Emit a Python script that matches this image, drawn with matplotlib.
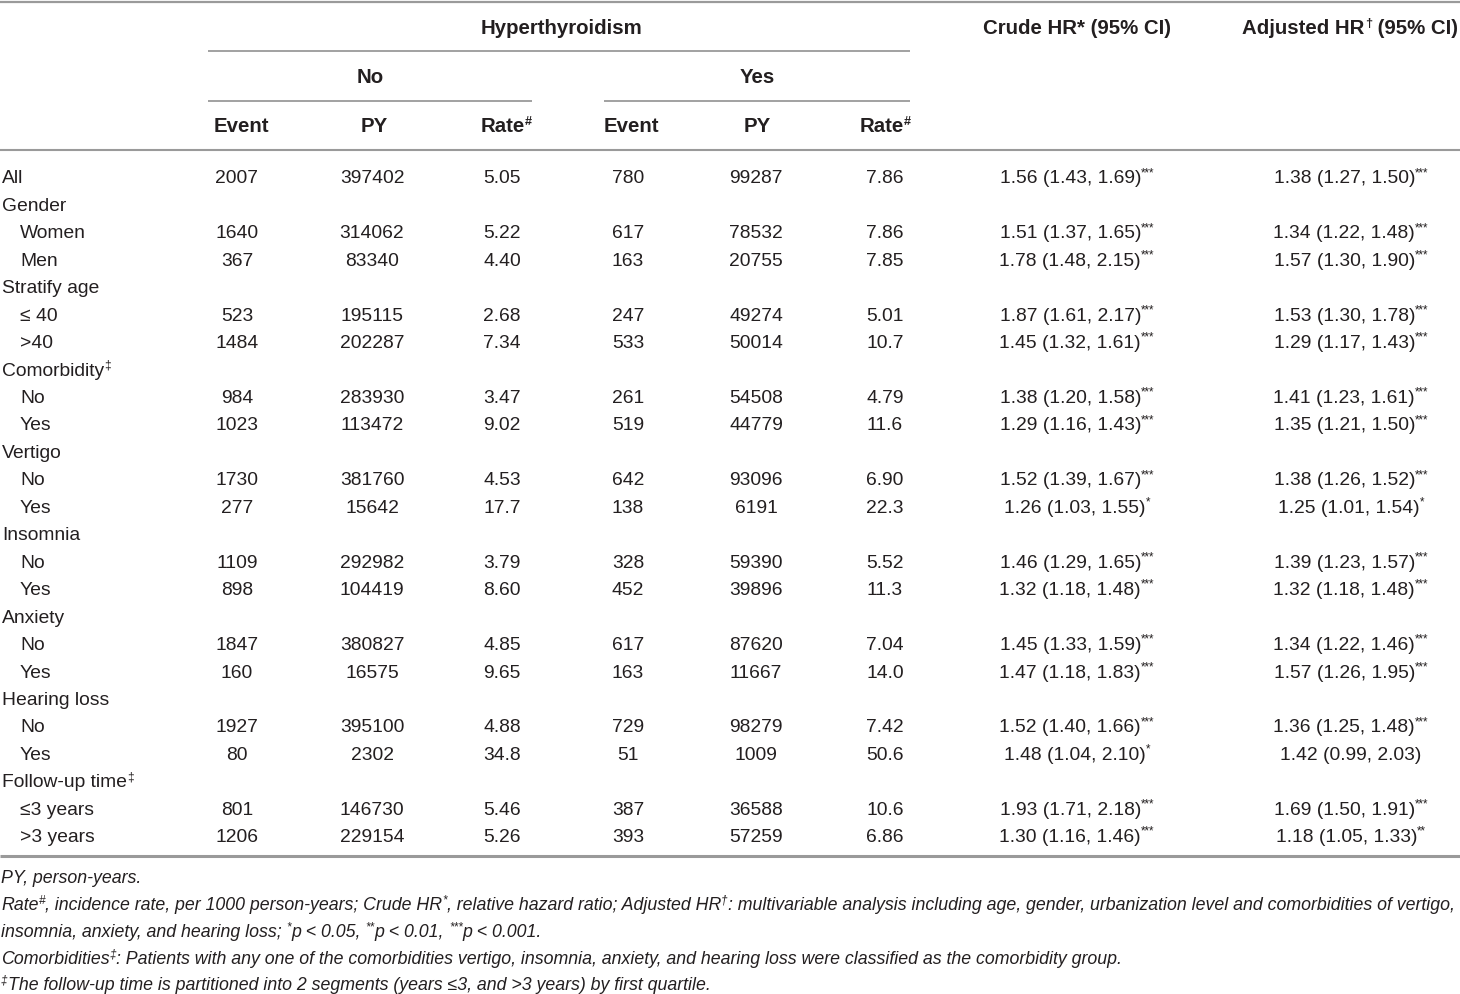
import matplotlib
matplotlib.use('Agg')
import matplotlib.pyplot as plt
from matplotlib.font_manager import FontProperties

# ---------------- data ----------------
row_labels = ["All", "Gender", "Women", "Men", "Stratify age", "\u2264 40", ">40",
              "Comorbidity", "No", "Yes", "Vertigo", "No", "Yes", "Insomnia", "No", "Yes",
              "Anxiety", "No", "Yes", "Hearing loss", "No", "Yes", "Follow-up time",
              "\u22643 years", ">3 years"]
row_label_sup = ["", "", "", "", "", "", "", "\u2021", "", "", "", "", "", "", "", "",
                 "", "", "", "", "", "", "\u2021", "", ""]
row_indent = [0, 0, 1, 1, 0, 1, 1, 0, 1, 1, 0, 1, 1, 0, 1, 1, 0, 1, 1, 0, 1, 1, 0, 1, 1]

event_no = ["2007", "", "1640", "367", "", "523", "1484", "", "984", "1023", "", "1730", "277",
            "", "1109", "898", "", "1847", "160", "", "1927", "80", "", "801", "1206"]
py_no = ["397402", "", "314062", "83340", "", "195115", "202287", "", "283930", "113472", "",
         "381760", "15642", "", "292982", "104419", "", "380827", "16575", "", "395100", "2302",
         "", "146730", "229154"]
rate_no = ["5.05", "", "5.22", "4.40", "", "2.68", "7.34", "", "3.47", "9.02", "", "4.53", "17.7",
           "", "3.79", "8.60", "", "4.85", "9.65", "", "4.88", "34.8", "", "5.46", "5.26"]
event_yes = ["780", "", "617", "163", "", "247", "533", "", "261", "519", "", "642", "138", "",
             "328", "452", "", "617", "163", "", "729", "51", "", "387", "393"]
py_yes = ["99287", "", "78532", "20755", "", "49274", "50014", "", "54508", "44779", "",
          "93096", "6191", "", "59390", "39896", "", "87620", "11667", "", "98279", "1009", "",
          "36588", "57259"]
rate_yes = ["7.86", "", "7.86", "7.85", "", "5.01", "10.7", "", "4.79", "11.6", "", "6.90", "22.3",
            "", "5.52", "11.3", "", "7.04", "14.0", "", "7.42", "50.6", "", "10.6", "6.86"]
crude_hr = ["1.56 (1.43, 1.69)", "", "1.51 (1.37, 1.65)", "1.78 (1.48, 2.15)", "",
            "1.87 (1.61, 2.17)", "1.45 (1.32, 1.61)", "", "1.38 (1.20, 1.58)", "1.29 (1.16, 1.43)",
            "", "1.52 (1.39, 1.67)", "1.26 (1.03, 1.55)", "", "1.46 (1.29, 1.65)",
            "1.32 (1.18, 1.48)", "", "1.45 (1.33, 1.59)", "1.47 (1.18, 1.83)", "",
            "1.52 (1.40, 1.66)", "1.48 (1.04, 2.10)", "", "1.93 (1.71, 2.18)", "1.30 (1.16, 1.46)"]
crude_sig = ["***", "", "***", "***", "", "***", "***", "", "***", "***", "", "***", "*", "",
             "***", "***", "", "***", "***", "", "***", "*", "", "***", "***"]
adj_hr = ["1.38 (1.27, 1.50)", "", "1.34 (1.22, 1.48)", "1.57 (1.30, 1.90)", "",
          "1.53 (1.30, 1.78)", "1.29 (1.17, 1.43)", "", "1.41 (1.23, 1.61)", "1.35 (1.21, 1.50)",
          "", "1.38 (1.26, 1.52)", "1.25 (1.01, 1.54)", "", "1.39 (1.23, 1.57)",
          "1.32 (1.18, 1.48)", "", "1.34 (1.22, 1.46)", "1.57 (1.26, 1.95)", "",
          "1.36 (1.25, 1.48)", "1.42 (0.99, 2.03)", "", "1.69 (1.50, 1.91)", "1.18 (1.05, 1.33)"]
adj_sig = ["***", "", "***", "***", "", "***", "***", "", "***", "***", "", "***", "*", "",
           "***", "***", "", "***", "***", "", "***", "", "", "***", "**"]

footnotes = [
    [("PY, person-years.", False)],
    [("Rate", False), ("#", True), (", incidence rate, per 1000 person-years; Crude HR", False),
     ("*", True), (", relative hazard ratio; Adjusted HR", False), ("\u2020", True),
     (": multivariable analysis including age, gender, urbanization level and comorbidities of vertigo,", False)],
    [("insomnia, anxiety, and hearing loss; ", False), ("*", True), ("p < 0.05, ", False),
     ("**", True), ("p < 0.01, ", False), ("***", True), ("p < 0.001.", False)],
    [("Comorbidities", False), ("\u2021", True),
     (": Patients with any one of the comorbidities vertigo, insomnia, anxiety, and hearing loss were classified as the comorbidity group.", False)],
    [("\u2021", True), ("The follow-up time is partitioned into 2 segments (years \u22643, and >3 years) by first quartile.", False)],
]

# ---------------- figure ----------------
W, H = 1460, 994
fig = plt.figure(figsize=(W / 100, H / 100), dpi=100)
ax = fig.add_axes([0, 0, 1, 1])
ax.set_xlim(0, W)
ax.set_ylim(H, 0)
ax.axis('off')
renderer = fig.canvas.get_renderer()

TXT = '#231f20'
LINE = '#9a9a9a'
FAM = ['Liberation Sans', 'DejaVu Sans']
NARROW = ['Liberation Sans Narrow', 'Liberation Sans', 'DejaVu Sans']


def fp(size, weight='normal', style='normal', family=FAM):
    return FontProperties(family=family, size=size, weight=weight, style=style)


def twidth(s, prop):
    t1 = ax.text(0, 0, s + '|', fontproperties=prop)
    w1 = t1.get_window_extent(renderer).width
    t1.remove()
    t2 = ax.text(0, 0, '|', fontproperties=prop)
    w2 = t2.get_window_extent(renderer).width
    t2.remove()
    return w1 - w2


def rich(x, y, runs, size, ha='left', weight='normal', style='normal', family=FAM,
         sup_scale=0.62, measure_only=False):
    main = fp(size, weight, style, family)
    sup = fp(size * sup_scale, weight, style, family)
    widths = [twidth(s, sup if is_sup else main) for s, is_sup in runs]
    total = sum(widths)
    if measure_only:
        return total
    px = size * 100 / 72.0
    base = y + 0.36 * px
    if ha == 'center':
        cx = x - total / 2
    elif ha == 'right':
        cx = x - total
    else:
        cx = x
    for (s, is_sup), w in zip(runs, widths):
        yy = base - (0.38 * px if is_sup else 0)
        ax.text(cx, yy, s, fontproperties=sup if is_sup else main, color=TXT,
                ha='left', va='baseline')
        cx += w
    return total


def hline(x0, x1, y, lw=1.3):
    ax.plot([x0, x1], [y, y], color=LINE, lw=lw, solid_capstyle='butt')


# lines
hline(0, W, 1.5, 1.6)
hline(208, 910, 50.5)
hline(208, 532, 100.5)
hline(604, 910, 100.5)
hline(0, W, 150, 1.5)
hline(0, W, 856, 2.2)

# header
HS = 14.7
rich(561, 27, [("Hyperthyroidism", False)], HS, ha='center', weight='bold')
rich(1077, 27, [("Crude HR* (95% CI)", False)], HS, ha='center', weight='bold')
rich(1350, 27, [("Adjusted HR", False), ("\u2020", True), (" (95% CI)", False)], HS,
     ha='center', weight='bold')
rich(370, 76, [("No", False)], HS, ha='center', weight='bold')
rich(757, 76, [("Yes", False)], HS, ha='center', weight='bold')
sub_headers = [(241, "Event", ""), (374, "PY", ""), (506, "Rate", "#"),
               (631, "Event", ""), (757, "PY", ""), (885, "Rate", "#")]
for cx, s, sp in sub_headers:
    runs = [(s, False)] + ([(sp, True)] if sp else [])
    rich(cx, 125, runs, HS, ha='center', weight='bold')

# body
BS = 13.9
y0, dy = 176.5, 27.45
col_x = [237, 372, 502, 628, 756, 885]
for i, lab in enumerate(row_labels):
    y = y0 + i * dy
    runs = [(lab, False)] + ([(row_label_sup[i], True)] if row_label_sup[i] else [])
    rich(2 + 18 * row_indent[i], y, runs, BS)
    vals = [event_no[i], py_no[i], rate_no[i], event_yes[i], py_yes[i], rate_yes[i]]
    for cx, v in zip(col_x, vals):
        if v:
            rich(cx, y, [(v, False)], BS, ha='center')
    if crude_hr[i]:
        runs = [(crude_hr[i], False)] + ([(crude_sig[i], True)] if crude_sig[i] else [])
        rich(1077, y, runs, BS, ha='center', sup_scale=0.6)
    if adj_hr[i]:
        runs = [(adj_hr[i], False)] + ([(adj_sig[i], True)] if adj_sig[i] else [])
        rich(1351, y, runs, BS, ha='center', sup_scale=0.6)

# footnotes (fit longest line to width)
w12 = rich(0, 0, footnotes[1], 12, style='italic', family=NARROW, measure_only=True)
FS = min(13.0, 12 * 1456 / w12)
fy = [877, 904, 931, 958, 984]
for y, runs in zip(fy, footnotes):
    rich(1, y, runs, FS, style='italic', family=NARROW, sup_scale=0.66)

fig.savefig('out.png', dpi=100)
